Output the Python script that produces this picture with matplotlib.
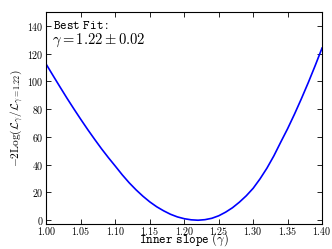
import matplotlib
matplotlib.use('Agg')
import matplotlib.pyplot as plt

# inner slope gamma and -2 log likelihood ratio
gamma = [1.00, 1.01, 1.02, 1.03, 1.04, 1.05, 1.06, 1.07, 1.08, 1.09,
         1.10, 1.11, 1.12, 1.13, 1.14, 1.15, 1.16, 1.17, 1.18, 1.19,
         1.20, 1.21, 1.22, 1.23, 1.24, 1.25, 1.26, 1.27, 1.28, 1.29,
         1.30, 1.31, 1.32, 1.33, 1.34, 1.35, 1.36, 1.37, 1.38, 1.39, 1.40]
loglike = [112.0, 103.8, 95.7, 87.7, 80.0, 72.5, 65.2, 58.2, 51.4, 45.0,
           38.9, 32.7, 27.0, 21.9, 17.3, 13.2, 9.7, 6.8, 4.3, 2.4,
           1.1, 0.3, 0.0, 0.4, 1.4, 3.2, 5.8, 9.0, 13.0, 17.6,
           23.0, 29.8, 37.5, 46.3, 56.2, 65.9, 76.4, 87.5, 99.1, 111.3, 124.0]

xticks = [1.00, 1.05, 1.10, 1.15, 1.20, 1.25, 1.30, 1.35, 1.40]
yticks = [0, 20, 40, 60, 80, 100, 120, 140]

plt.rcParams['mathtext.fontset'] = 'cm'

fig = plt.figure(figsize=(3.32, 2.49), dpi=100)
ax = fig.add_axes([0.140, 0.1016, 0.830, 0.8504])
ax.plot(gamma, loglike, color='blue', lw=1.2)

ax.set_xlim(1.00, 1.40)
ax.set_ylim(-2.5, 150)
ax.set_xticks(xticks)
ax.set_xticklabels(['$%.2f$' % t for t in xticks], fontsize=7.2)
ax.set_yticks(yticks)
ax.set_yticklabels(['$%d$' % t for t in yticks], fontsize=7.2)
ax.tick_params(direction='in', top=True, right=True, length=3.5, width=0.6)
ax.tick_params(axis='x', pad=1.2)
ax.tick_params(axis='y', pad=2.0)
for s in ax.spines.values():
    s.set_linewidth(0.8)

# typewriter text through mathtext (cmtt), like the original LaTeX labels
ax.set_xlabel(r'$\mathtt{Inner\ slope\ (}\gamma\mathtt{)}$', fontsize=9, va='bottom')
ax.xaxis.set_label_coords(0.555, 0.006, transform=fig.transFigure)
ax.set_ylabel(r'$-2\mathrm{Log}(\mathcal{L}_\gamma/\mathcal{L}_{\gamma=1.22})$', fontsize=8.2,
              va='center')
ax.yaxis.set_label_coords(-0.105, 0.5)

ax.text(0.025, 0.965, r'$\mathtt{Best\ Fit:}$', transform=ax.transAxes,
        fontsize=9, va='top', ha='left')
ax.text(0.02, 0.905, r'$\gamma=1.22\pm0.02$', transform=ax.transAxes,
        fontsize=10.5, va='top', ha='left')

fig.savefig('out.png', dpi=100)
